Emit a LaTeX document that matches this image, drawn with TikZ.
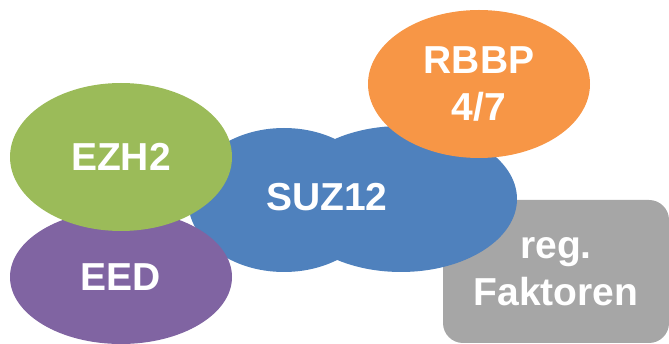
\documentclass[tikz,border=0pt]{standalone}
\usepackage{fontspec}
\setmainfont{Liberation Sans}
\usetikzlibrary{shapes.geometric}
\definecolor{ezhgreen}{HTML}{9BBB59}
\definecolor{eedpurple}{HTML}{8064A2}
\definecolor{suzblue}{HTML}{4F81BD}
\definecolor{rbbporange}{HTML}{F79646}
\definecolor{faktgray}{HTML}{A6A6A6}
\tikzstyle{txt} = [text=white, font=\bfseries\fontsize{39}{47}\selectfont, align=center, inner sep=0]
\tikzstyle{prot} = [ellipse, minimum width=222pt, minimum height=148pt, txt]
\tikzstyle{regbox} = [rectangle, rounded corners=20pt, txt]

\begin{document}
\begin{tikzpicture}[x=1pt,y=-1pt]
\useasboundingbox (0,0) rectangle (669,344);
% regulatory factors behind the core
\node[regbox,fill=faktgray,minimum width=226pt,minimum height=143pt] (fakt) at (556,271.5) {reg.\\Faktoren};
% SUZ12 as two overlapping lobes
\node[prot,fill=suzblue,minimum width=192pt,minimum height=144pt] (suzl) at (284,200) {};
\node[prot,fill=suzblue,minimum width=232pt,minimum height=146pt] (suzr) at (401,199) {};
\node[txt] (suz) at (327,197) {SUZ12};
\node[prot,fill=eedpurple,minimum height=134pt] (eed) at (121,277) {EED};
\node[prot,fill=ezhgreen] (ezh) at (121,157) {EZH2};
\node[prot,fill=rbbporange] (rbbp) at (479,84) {RBBP\\4/7};
\end{tikzpicture}
\end{document}
